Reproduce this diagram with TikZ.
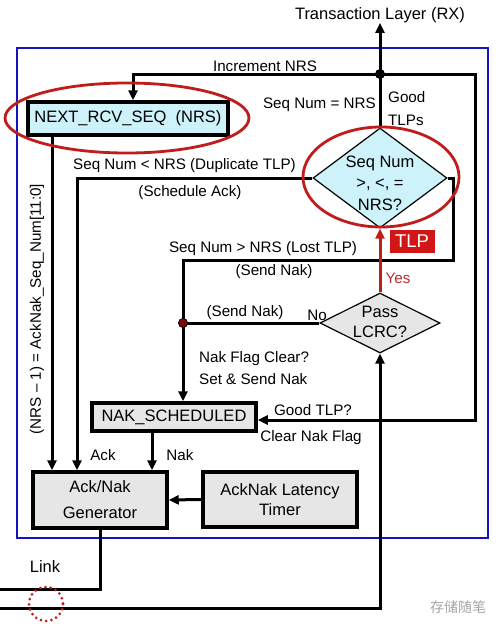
\documentclass[tikz,border=0pt]{standalone}
\usepackage{fontspec}
\setmainfont{Liberation Sans}
\newfontfamily\cjk{Noto Sans CJK SC}
\usetikzlibrary{shapes.geometric,arrows.meta}
\definecolor{frameblue}{RGB}{20,20,190}
\definecolor{cyanfill}{RGB}{205,242,250}
\definecolor{grayfill}{RGB}{230,230,230}
\definecolor{ellred}{RGB}{192,28,28}
\definecolor{yesred}{RGB}{185,45,45}
\definecolor{tlpred}{RGB}{210,22,22}
\definecolor{dotred}{RGB}{120,10,10}
\begin{document}
\begin{tikzpicture}[x=1pt,y=-1pt,
  every node/.style={font=\fontsize{16.5}{19}\selectfont, inner sep=0pt},
  lbl/.style={font=\fontsize{15.2}{18}\selectfont},
  conn/.style={line width=3pt, draw=black},
  arr/.style={conn, -{Triangle[length=10pt,width=9pt]}},
  boxc/.style={rectangle, draw=black, line width=3.5pt, fill=cyanfill},
  boxg/.style={rectangle, draw=black, line width=3.5pt, fill=grayfill},
  diac/.style={diamond, draw=black, line width=1.2pt, fill=cyanfill},
  diag/.style={diamond, draw=black, line width=1.2pt, fill=grayfill},
  ring/.style={draw=ellred, line width=2.8pt},
]
\useasboundingbox (0,0) rectangle (497,629);
\fill[white] (0,0) rectangle (497,629);

% blue frame
\draw[frameblue, line width=2.5pt] (17,48) rectangle (488,538);

% boxes
\node[boxc, minimum width=200pt, minimum height=33pt] (nrs) at (128,118.5) {NEXT\_RCV\_SEQ\ \ (NRS)};
\node[diac, minimum width=134pt, minimum height=100pt] (seq) at (380,178) {};
\node[align=center, font=\fontsize{16.5}{21.5}\selectfont] (seqt) at (380,183) {Seq Num\\>, <, =\\NRS?};
\node[diag, minimum width=120pt, minimum height=60pt] (lcrc) at (380,323) {};
\node[align=center, font=\fontsize{16.5}{20}\selectfont] (lcrct) at (380,322) {Pass\\LCRC?};
\node[boxg, minimum width=164pt, minimum height=28pt] (naks) at (174,417) {NAK\_SCHEDULED};
\node[boxg, minimum width=134pt, minimum height=56pt, align=center, font=\fontsize{16.5}{26}\selectfont] (gen) at (100,500) {Ack/Nak\\Generator};
\node[boxg, minimum width=154pt, minimum height=55pt, align=center, font=\fontsize{16.5}{20.5}\selectfont] (timer) at (280,499.5) {AckNak Latency\\Timer};

% top output
\node (tl) at (380,15) {Transaction Layer (RX)};
\node[circle, fill=black, minimum size=10pt] (dtop) at (380,74) {};
\draw[arr] (seq.north) -- (tl.south);

% increment NRS
\draw[arr] (dtop.center) -| ([xshift=5pt]nrs.north);
% good TLP loop to NAK_SCHEDULED
\draw[arr] (dtop.center) -- (475,74) |- ([yshift=-3pt]naks.east);

% duplicate
\draw[arr] (seq.west) -| ([xshift=-23pt]gen.north);
% NRS-1 to generator
\draw[arr] ([xshift=-76pt]nrs.south) -- ([xshift=-48pt]gen.north);
% lost TLP
\coordinate (lostR) at (453,260);
\draw[arr] (seq.east) -- (453,178) -- (lostR) -| ([xshift=9pt]naks.north);
% LCRC fail
\node[circle, fill=dotred, draw=black, line width=0.6pt, minimum size=9pt] (rdot) at (183,323) {};
\draw[conn] (lcrc.west) -- (rdot.center);
\node[circle, fill=dotred, draw=black, line width=0.6pt, minimum size=9pt] (rdotb) at (rdot) {};
% LCRC pass
\draw[ellred, line width=3pt, -{Triangle[length=10pt,width=9pt]}] (lcrc.north) -- (seq.south);
% NAK scheduled to gen
\draw[arr] ([xshift=-22pt]naks.south) -- ([xshift=52pt]gen.north);
% timer
\draw[arr] (timer.west) -- (gen.east);
% link
\coordinate (linkA) at (0,589);
\coordinate (linkB) at (0,608);
\draw[conn] (gen.south) |- (linkA);
\draw[arr] (linkB) -| (lcrc.south);

% ellipses
\draw[ring] (127,118) ellipse[x radius=122, y radius=35];
\draw[ring] (381,177) ellipse[x radius=78, y radius=50];
\draw[ellred, line width=3pt, dash pattern=on 0pt off 5.3pt, line cap=round] (46,604) circle[radius=17];

% labels
\node[lbl] (l1) at (265,66) {Increment NRS};
\node[lbl, anchor=east] (l2) at (376,105) {Seq Num = NRS};
\node[lbl, anchor=west] (l3) at (388,97) {Good};
\node[lbl, anchor=west] (l4) at (388,120) {TLPs};
\node[lbl, anchor=west] (l5) at (73,166) {Seq Num < NRS (Duplicate TLP)};
\node[lbl] (l6) at (190,193) {(Schedule Ack)};
\node[lbl, rotate=90] (l7) at (37,309) {(NRS -- 1) = AckNak\_Seq\_Num[11:0]};
\node[lbl] (l8) at (263,249) {Seq Num > NRS (Lost TLP)};
\node[lbl] (l9) at (274,272) {(Send Nak)};
\node[lbl] (l10) at (245,313) {(Send Nak)};
\node[lbl] (l11) at (317,315) {No};
\node[lbl, anchor=west] (l12) at (199,359) {Nak Flag Clear?};
\node[lbl, anchor=west] (l13) at (199,379) {Set \& Send Nak};
\node[lbl] (l14) at (313,410) {Good TLP?};
\node[lbl] (l15) at (311,438) {Clear Nak Flag};
\node[lbl] (l16) at (103,455) {Ack};
\node[lbl] (l17) at (180,455) {Nak};
\node (l18) at (45,567) {Link};
\node[lbl, text=yesred] (l19) at (398,278) {Yes};
\node[fill=tlpred, text=white, font=\fontsize{18.5}{20}\selectfont, minimum width=45pt, minimum height=23pt] (l20) at (412,241) {TLP};
\node[text=black!35, font=\cjk\fontsize{14}{16}\selectfont] (wm) at (458,607) {存储随笔};
\end{tikzpicture}
\end{document}
